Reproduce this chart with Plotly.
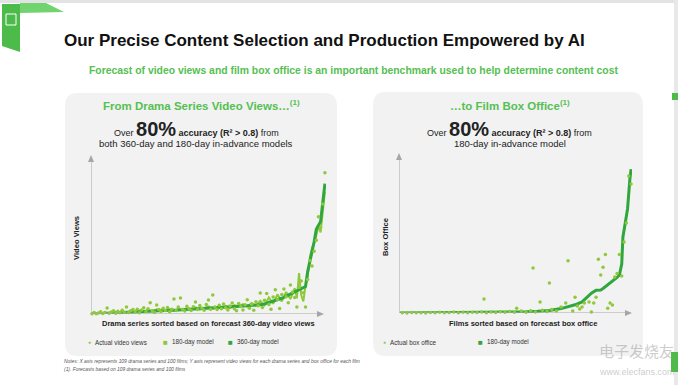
import plotly.graph_objects as go

W, H = 678, 385

# ---------------- DATA ----------------
# Left chart: 109 drama series sorted by forecast 360-day video views (relative units)
drama_idx_360 = [1, 5, 9, 13, 17, 21, 25, 29, 33, 37, 41, 45, 49, 53, 57, 61, 65, 69, 73, 77,
                 80, 83, 86, 89, 92, 95, 98, 100, 101, 102, 103, 104, 105, 106, 107, 108, 109]
drama_360 = [0, 0.3, 0.6, 1.0, 1.3, 1.6, 1.9, 2.0, 2.2, 2.4, 2.6, 3.0, 3.3, 3.6, 3.9, 4.3, 4.6, 5.0, 5.3, 5.6,
             6.0, 7.3, 8.6, 10.0, 12.0, 14.0, 16.0, 17.5, 27, 33, 39, 46, 54, 56.5, 59, 71, 83]

drama_idx_180 = [1, 3, 5, 7, 9, 11, 13, 15, 17, 19, 21, 23, 25, 27, 29, 31, 33, 35, 37, 39,
                 41, 43, 45, 47, 49, 51, 53, 55, 57, 59, 61, 63, 65, 67, 69, 71, 73, 75, 77, 79,
                 81, 83, 85, 87, 89, 91, 93, 95, 96, 97, 98, 99, 100, 101, 102, 103, 104, 105, 106, 107, 108, 109]
drama_180 = [0, 0.5, 0.2, 0.9, 0.4, 1.2, 0.8, 1.6, 1.0, 1.9, 1.2, 2.2, 1.5, 2.6, 1.7, 2.9, 1.8, 2.5, 3.0, 2.0,
             3.3, 2.4, 3.6, 2.8, 4.2, 2.9, 3.5, 4.8, 3.2, 4.4, 3.6, 5.2, 3.8, 5.6, 4.5, 6.3, 4.8, 7.0, 5.2, 8.5,
             5.5, 10.5, 6.5, 12.5, 8.0, 14.0, 9.5, 16.5, 10.0, 26.0, 12.0, 8.0, 18.0, 24.0, 36.0, 42.0, 45.0, 50.0, 56.0, 52.0, 66.0, 78.0]

drama_actual = [0.2, 1.0, 0.1, 0.7, 1.5, 0.3, 0.9, 3.8, 0.4, 1.3,
                2.0, 0.5, 1.7, 0.8, 2.4, 1.1, 4.5, 0.9, 2.0, 2.9,
                1.2, 3.1, 0.8, 2.6, 4.0, 1.5, 3.3, 7.2, 2.1, 0.9,
                5.7, 2.8, 1.6, 3.6, 2.3, 4.2, 1.4, 3.0, 9.5, 2.2,
                4.4, 10.2, 3.0, 1.9, 5.0, 3.4, 2.2, 4.6, 7.6, 2.9,
                5.4, 3.7, 2.4, 6.0, 8.9, 3.1, 12.1, 4.5, 2.8, 5.6,
                3.3, 6.4, 4.0, 2.6, 5.1, 7.0, 3.4, 2.0, 6.7, 4.8,
                2.5, 5.9, 9.0, 3.6, 6.2, 2.4, 7.8, 5.2, 13.4, 4.1,
                8.7, 13.0, 6.0, 3.0, 10.8, 15.5, 9.2, 3.5, 12.5, 16.0,
                11.0, 7.2, 18.5, 14.0, 10.5, 4.5, 16.8, 21.0, 13.5, 4.5,
                22.0, 34.0, 30.5, 40.0, 47.0, 62.0, 55.0, 70.0, 90.0]
drama_actual_idx = list(range(1, len(drama_actual) + 1))

# Right chart: 100 films sorted by forecast box office (relative units)
film_idx_180 = [1, 10, 20, 30, 40, 50, 55, 60, 65, 70, 73, 76, 79, 81, 83, 85, 87, 88, 90, 92,
                94, 95, 96, 96.5, 97.5, 98.5, 99.5, 100]
film_180 = [0, 0.1, 0.2, 0.3, 0.4, 0.6, 0.8, 1.1, 1.6, 2.8, 3.8, 5.2, 7.0, 9.8, 12.5, 14.4, 14.6, 15.5, 17.8, 19.8,
            22.5, 24.0, 31.0, 48, 58, 66, 85, 91]

film_actual_idx = [2, 4, 6, 8, 10, 12, 14, 16, 18, 20, 22, 24, 26, 28, 30, 32, 34, 36, 37, 38,
                   40, 42, 44, 46, 48, 50, 51, 53, 55, 57, 58, 59, 61, 62, 64, 65, 66, 68, 70, 72,
                   73, 75, 76, 77, 78, 79, 80, 82, 83, 84, 85, 86, 87, 88, 89, 90, 91, 92, 93, 94,
                   95, 96, 97, 98, 99, 100]
film_actual = [0.2, 0.0, 0.3, 0.1, 0.2, 0.0, 0.3, 0.1, 0.4, 0.2, 0.3, 0.6, 0.1, 0.4, 0.2, 0.5, 0.3, 0.7, 8.9, 0.2,
               0.6, 0.3, 0.8, 0.4, 1.0, 0.5, 3.0, 1.2, 0.4, 1.5, 28.5, 0.6, 7.0, 1.8, 0.9, 19.0, 2.2, 1.3, 3.8, 6.3,
               33.0, 1.3, 10.0, 4.4, 2.6, 3.8, 6.3, 7.0, 0.6, 6.3, 10.0, 34.0, 24.0, 29.0, 37.0, 3.0, 6.3, 5.0, 22.8, 25.0,
               37.0, 23.4, 45.0, 57.0, 86.7, 81.6]

# ---------------- STYLE ----------------
DARK = "#2fa63e"
LIGHT = "#8fc93a"
GREEN_TXT = "#55c053"
PANEL = "#f2f2f2"
AXIS = "#a6a6a6"
FONT = "Liberation Sans, Arial, sans-serif"


def px(x):
    return x / W


def py(y):
    return 1 - y / H


def rrect(x0, y0, x1, y1, r):
    X0, X1 = px(x0), px(x1)
    Y0, Y1 = py(y0), py(y1)
    rx, ry = r / W, r / H
    return (f"M {X0+rx},{Y0} L {X1-rx},{Y0} Q {X1},{Y0} {X1},{Y0-ry} "
            f"L {X1},{Y1+ry} Q {X1},{Y1} {X1-rx},{Y1} L {X0+rx},{Y1} "
            f"Q {X0},{Y1} {X0},{Y1+ry} L {X0},{Y0-ry} Q {X0},{Y0} {X0+rx},{Y0} Z")


def poly(pts):
    return "M " + " L ".join(f"{px(a)},{py(b)}" for a, b in pts) + " Z"


fig = go.Figure()

# Left chart traces
fig.add_trace(go.Scatter(x=drama_idx_180, y=drama_180, mode="lines", line=dict(color=LIGHT, width=2),
                         xaxis="x", yaxis="y", showlegend=False, cliponaxis=False, hoverinfo="skip"))
fig.add_trace(go.Scatter(x=drama_idx_360, y=drama_360, mode="lines", line=dict(color=DARK, width=3),
                         xaxis="x", yaxis="y", showlegend=False, cliponaxis=False, hoverinfo="skip"))
fig.add_trace(go.Scatter(x=drama_actual_idx, y=drama_actual, mode="markers",
                         marker=dict(color=LIGHT, size=3.5), xaxis="x", yaxis="y",
                         showlegend=False, cliponaxis=False, hoverinfo="skip"))

# Right chart traces
fig.add_trace(go.Scatter(x=film_idx_180, y=film_180, mode="lines", line=dict(color=DARK, width=3),
                         xaxis="x2", yaxis="y2", showlegend=False, cliponaxis=False, hoverinfo="skip"))
fig.add_trace(go.Scatter(x=film_actual_idx, y=film_actual, mode="markers",
                         marker=dict(color=LIGHT, size=3.5), xaxis="x2", yaxis="y2",
                         showlegend=False, cliponaxis=False, hoverinfo="skip"))

ax_common = dict(showgrid=False, zeroline=False, showticklabels=False, ticks="", showline=False)
L_XR = [0.54, 109.5]
R_XR = [0.57, 100.4]
fig.update_layout(
    xaxis=dict(domain=[px(91), px(326)], range=L_XR, anchor="y", **ax_common),
    yaxis=dict(domain=[py(314), py(157)], range=[0, 100], anchor="x", **ax_common),
    xaxis2=dict(domain=[px(399), px(632)], range=R_XR, anchor="y2", **ax_common),
    yaxis2=dict(domain=[py(313), py(155)], range=[0, 100], anchor="x2", **ax_common),
)

shapes = []
# top / right frame
shapes.append(dict(type="rect", xref="paper", yref="paper", x0=0, x1=1, y0=py(3), y1=1,
                   fillcolor="#e3e3e3", line=dict(width=0), layer="below"))
shapes.append(dict(type="rect", xref="paper", yref="paper", x0=px(674), x1=1, y0=0, y1=1,
                   fillcolor="#e8e8e8", line=dict(width=0), layer="below"))
# panels
shapes.append(dict(type="path", xref="paper", yref="paper", path=rrect(65, 93, 337, 356, 13),
                   fillcolor=PANEL, line=dict(width=0), layer="below"))
shapes.append(dict(type="path", xref="paper", yref="paper", path=rrect(373, 92, 643, 356, 13),
                   fillcolor=PANEL, line=dict(width=0), layer="below"))
# logo
shapes.append(dict(type="path", xref="paper", yref="paper", path=poly([(20, 3), (46, 3), (64, 12), (20, 13)]),
                   fillcolor="#72d46e", line=dict(width=0)))
shapes.append(dict(type="path", xref="paper", yref="paper", path=poly([(2, 4), (20, 4), (20, 52), (2, 46)]),
                   fillcolor="#4cbb4a", line=dict(width=0)))
shapes.append(dict(type="rect", xref="paper", yref="paper", x0=px(6), x1=px(16), y0=py(25), y1=py(14),
                   fillcolor="rgba(0,0,0,0)", line=dict(color="white", width=1)))
# small green marks at right edge
shapes.append(dict(type="rect", xref="paper", yref="paper", x0=px(672), x1=1, y0=py(100), y1=py(93),
                   fillcolor="#4cbb4a", line=dict(width=0)))
shapes.append(dict(type="rect", xref="paper", yref="paper", x0=px(671), x1=1, y0=py(372), y1=py(352),
                   fillcolor="#4cbb4a", line=dict(width=0)))

# axis lines (data refs) and arrowheads
for xa, ya, xr, xtip in (("x", "y", L_XR, 107.6), ("x2", "y2", R_XR, 99.6)):
    shapes.append(dict(type="line", xref=xa, yref=ya, x0=xr[0], x1=xtip, y0=0, y1=0,
                       line=dict(color=AXIS, width=1)))
    shapes.append(dict(type="line", xref=xa, yref=ya, x0=xr[0], x1=xr[0], y0=0, y1=99,
                       line=dict(color=AXIS, width=1)))
for (tx, ty) in ((324, 314), (632, 313)):
    shapes.append(dict(type="path", xref="paper", yref="paper",
                       path=poly([(tx, ty), (tx - 7, ty - 3), (tx - 7, ty + 3)]),
                       fillcolor=AXIS, line=dict(width=0)))
for (tx, ty) in ((91, 155), (399, 153)):
    shapes.append(dict(type="path", xref="paper", yref="paper",
                       path=poly([(tx, ty), (tx - 3, ty + 7), (tx + 3, ty + 7)]),
                       fillcolor=AXIS, line=dict(width=0)))
fig.update_layout(shapes=shapes)

ann = []


def text(x, y, t, size, color="#222", bold=False, xanchor="center", angle=0, italic=False, family=FONT):
    s = f"<b>{t}</b>" if bold else t
    s = f"<i>{s}</i>" if italic else s
    ann.append(dict(x=px(x), y=py(y), xref="paper", yref="paper", text=s, showarrow=False,
                    xanchor=xanchor, yanchor="middle", textangle=angle,
                    font=dict(family=family, size=size, color=color)))


text(62, 40, "Our Precise Content Selection and Production Empowered by AI", 17, "#111", True, "left")
text(353, 70, "Forecast of video views and film box office is an important benchmark used to help determine content cost",
     10.4, GREEN_TXT, True)

text(201, 105, "From Drama Series Video Views…<sup>(1)</sup>", 11.5, GREEN_TXT, True)
text(510, 105, "…to Film Box Office<sup>(1)</sup>", 11.5, GREEN_TXT, True)

over = ("Over <b><span style='font-size:20px'>80%</span> accuracy (R² > 0.8)</b> from")
text(196, 129, over, 9, "#222")
text(196, 143, "both 360-day and 180-day in-advance models", 9.5, "#222")
text(510, 129, over, 9, "#222")
text(510, 143, "180-day in-advance model", 9.5, "#222")

text(76, 238, "Video Views", 7.6, "#222", True, angle=-90)
text(208, 323, "Drama series sorted based on forecast 360-day video views", 7.5, "#222", True)
text(385, 237, "Box Office", 7.6, "#222", True, angle=-90)
text(523, 323, "Films sorted based on forecast box office", 7.5, "#222", True)

# legends
text(86, 342, "●", 5, LIGHT, xanchor="left")
text(93, 342, "Actual video views", 6.3, "#333", xanchor="left")
text(161, 342, "■", 8, LIGHT, xanchor="left")
text(170, 342, "180-day model", 6.3, "#333", xanchor="left")
text(226, 342, "■", 8, DARK, xanchor="left")
text(235, 342, "360-day model", 6.3, "#333", xanchor="left")
text(381, 342, "●", 5, LIGHT, xanchor="left")
text(388, 342, "Actual box office", 6.3, "#333", xanchor="left")
text(476, 342, "■", 8, DARK, xanchor="left")
text(485, 342, "180-day model", 6.3, "#333", xanchor="left")

# notes
text(62, 361, "Notes: X axis represents 109 drama series and 100 films; Y axis represent video views for each drama series and box office for each film",
     4.9, "#555", xanchor="left", italic=True)
text(62, 369, "(1). Forecasts based on 109 drama series and 100 films", 4.9, "#555", xanchor="left", italic=True)

# watermark
text(597, 350, "电子发烧友", 15, "rgba(160,160,160,0.55)", xanchor="left", family="Noto Sans CJK SC")
text(597, 372, "www.elecfans.com", 9, "rgba(160,160,160,0.55)", xanchor="left")

fig.update_layout(annotations=ann, width=W, height=H, autosize=False,
                  margin=dict(l=0, r=0, t=0, b=0), paper_bgcolor="white", plot_bgcolor="rgba(0,0,0,0)",
                  showlegend=False)

fig.write_html("out.html", config={"displayModeBar": False},
               post_script="document.body.style.margin='0';document.body.style.overflow='hidden';")
